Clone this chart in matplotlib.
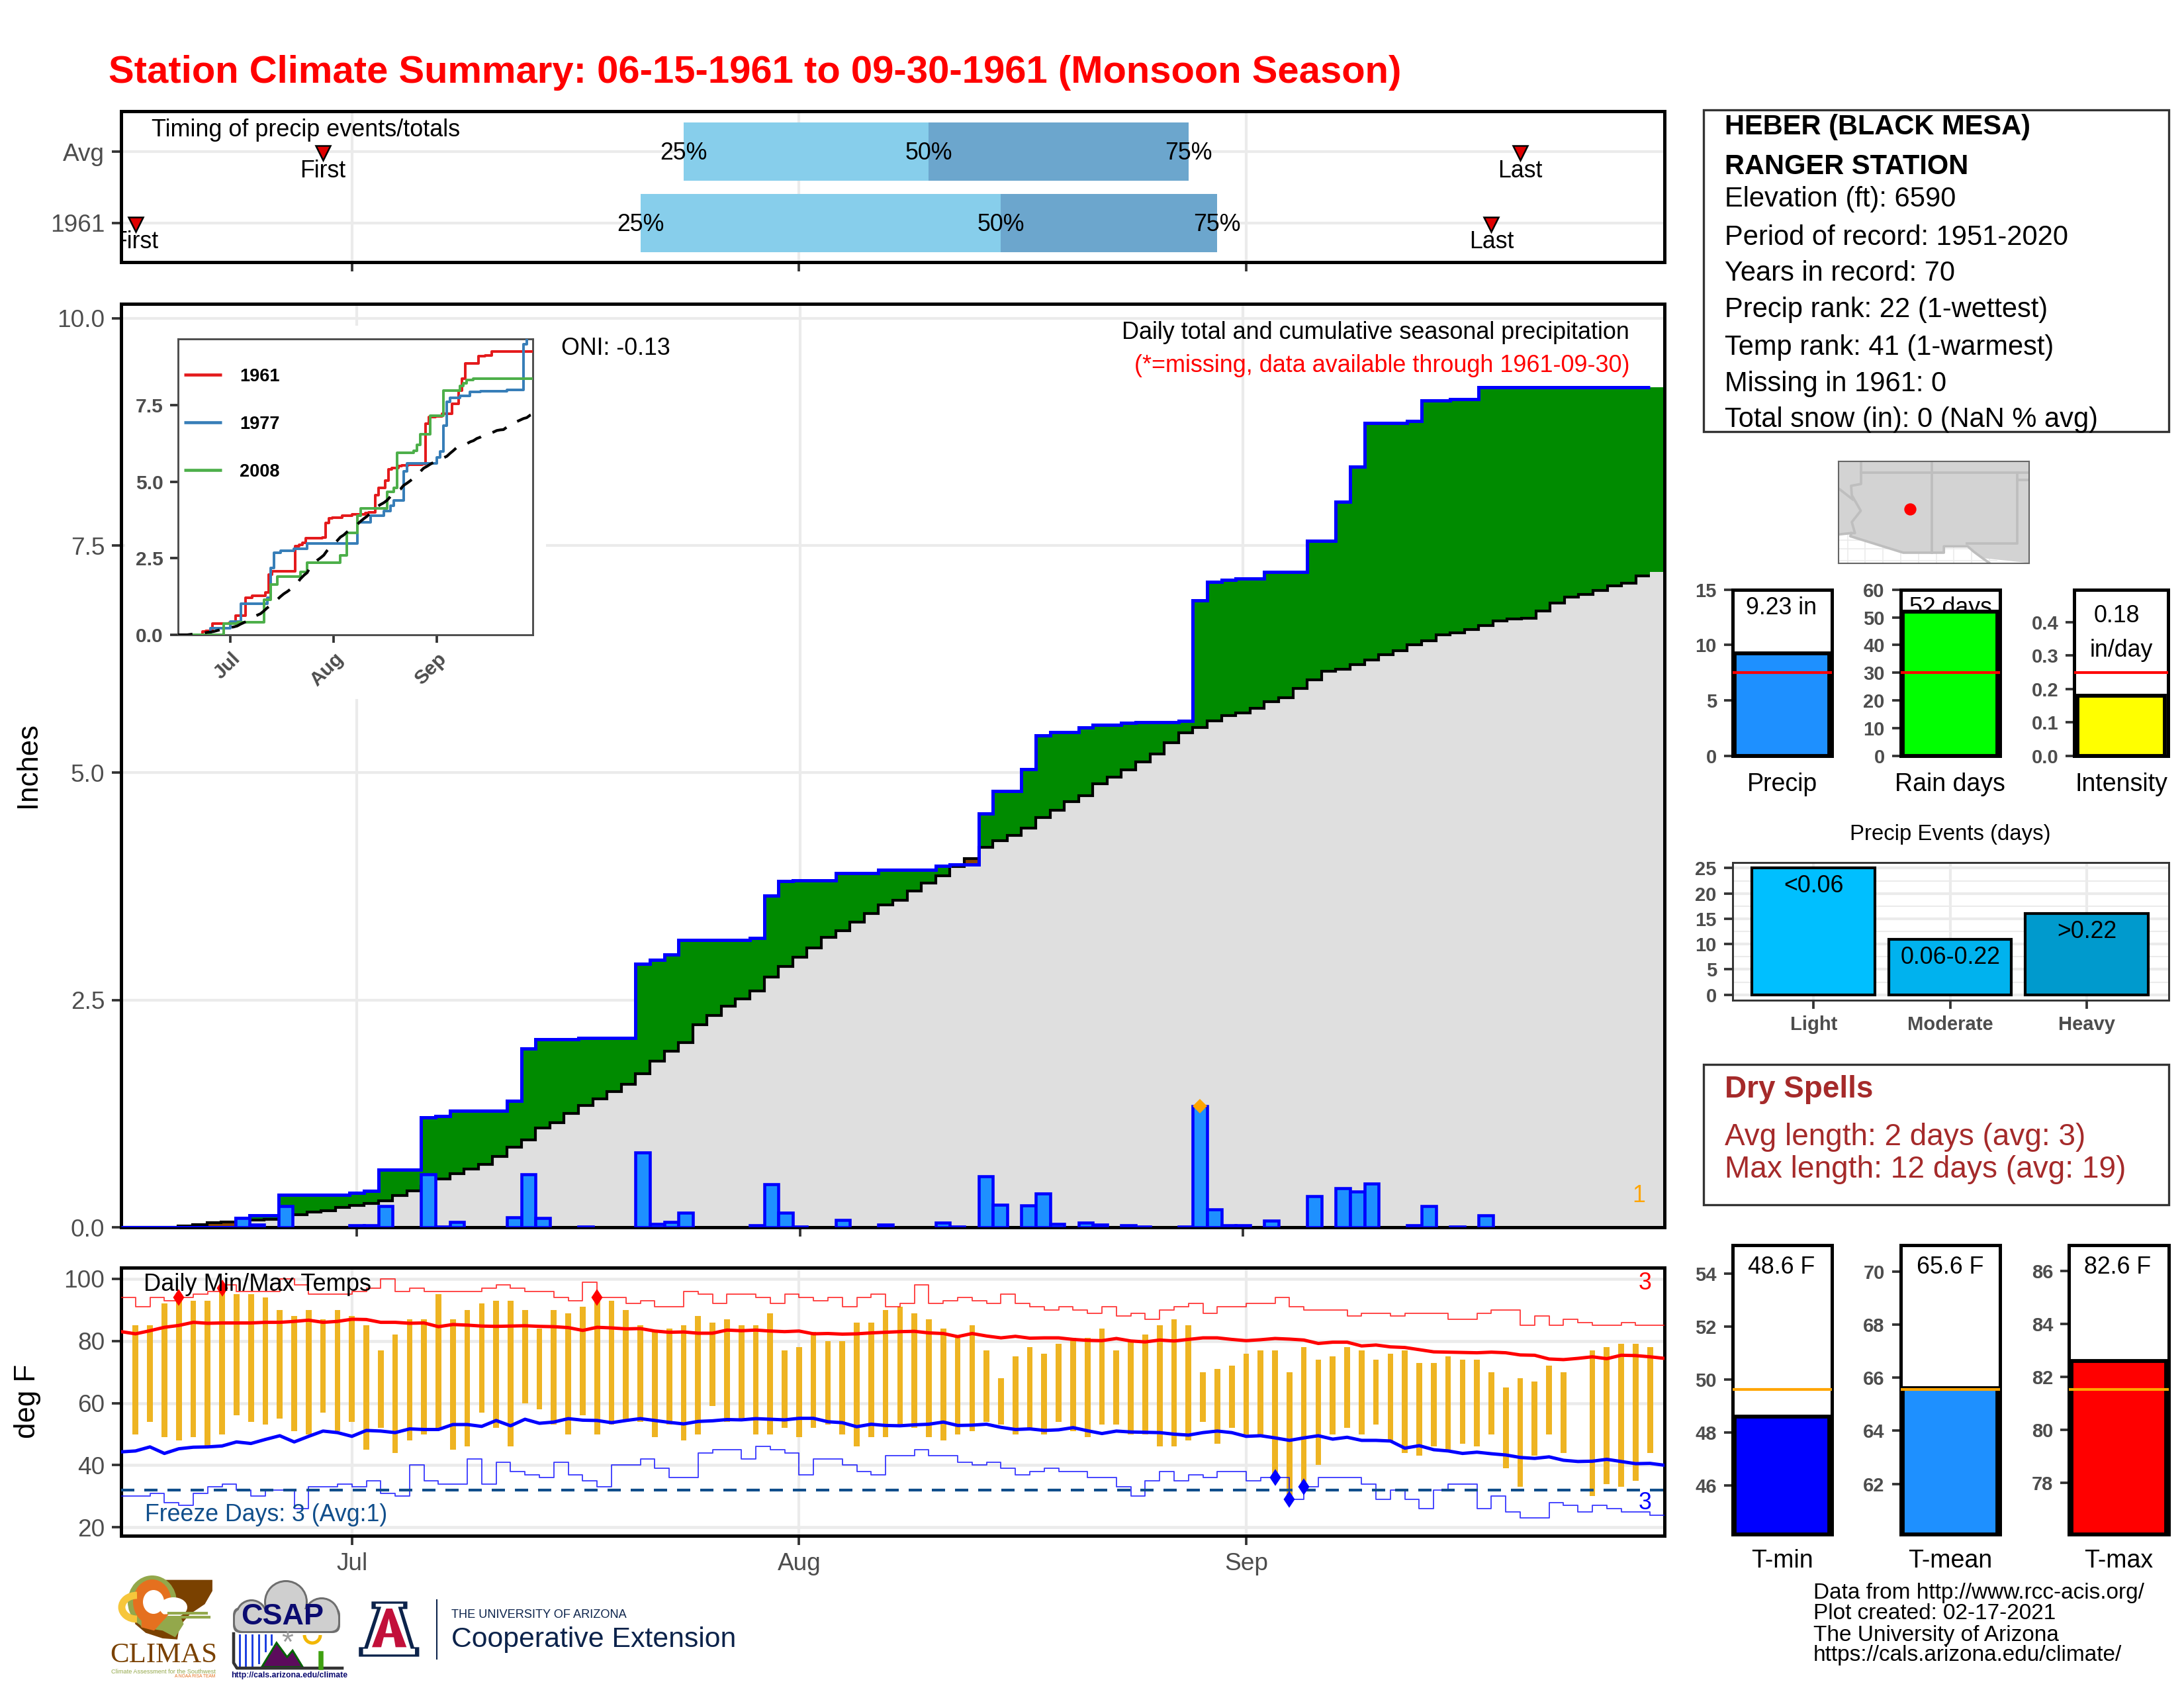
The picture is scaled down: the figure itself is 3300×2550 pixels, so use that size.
import numpy as np
import matplotlib
matplotlib.use("Agg")
import matplotlib.pyplot as plt
from matplotlib.patches import Rectangle, Polygon, Circle, Arc, Ellipse, FancyBboxPatch

plt.rcParams['font.family'] = ['Liberation Sans', 'DejaVu Sans']

# ---------- data ----------
month_ticks = [16, 47, 78]
month_labels = ['Jul', 'Aug', 'Sep']

timing_cats = ['1961', 'Avg']
timing_q25 = [36, 39]
timing_q50 = [61, 56]
timing_q75 = [76, 74]
timing_first = [1, 14]
timing_last = [95, 97]

# daily precipitation by day index (0 = Jun 15)
precip_days = [8, 9, 11, 16, 17, 18, 21, 22, 23, 27, 28, 29, 32, 36, 37, 38, 39, 44, 45, 46, 47, 50, 53,
               57, 58, 60, 61, 63, 64, 65, 67, 68, 70, 71, 74, 75, 76, 77, 78, 80, 83, 85, 86, 87, 90, 91, 93, 95]
precip_vals = [.10, .03, .23, .02, .02, .23, .58, .01, .06, .11, .58, .10, .01, .82, .04, .06, .16, .02, .47, .16, .01, .08, .03,
               .05, .01, .56, .25, .24, .37, .04, .05, .03, .02, .01, .01, 1.33, .20, .02, .02, .07, .34, .43, .39, .48, .02, .23, .01, .13]

avg_cum = [0, 0, 0, 0, .015, .03, .05, .055, .06, .08, .09, .11, .14, .17, .18, .22, .24, .26, .29, .35, .40, .45, .53, .59,
           .64, .69, .78, .88, .96, 1.09, 1.15, 1.25, 1.34, 1.41, 1.49, 1.57, 1.69, 1.83, 1.94, 2.03, 2.23, 2.33, 2.43, 2.51,
           2.60, 2.75, 2.87, 2.97, 3.07, 3.19, 3.26, 3.36, 3.45, 3.55, 3.60, 3.70, 3.79, 3.87, 3.97, 4.06, 4.18, 4.25, 4.31,
           4.39, 4.51, 4.59, 4.68, 4.75, 4.88, 4.95, 5.03, 5.12, 5.21, 5.33, 5.44, 5.50, 5.57, 5.63, 5.66, 5.71, 5.78, 5.83,
           5.93, 6.02, 6.12, 6.14, 6.19, 6.24, 6.30, 6.34, 6.41, 6.45, 6.52, 6.54, 6.58, 6.62, 6.67, 6.69, 6.70, 6.78, 6.87,
           6.93, 6.96, 7.01, 7.06, 7.09, 7.17, 7.21]

temp_high = [np.nan, 85, 85, 92, 94, 93, 93, 97, 95, 95, 94, 90, 88, 90, 87, 90, 88, 85, 77, 82, 87, 87, 95, 87, 90, 92, 93, 93, 90, 84,
             90, 89, 91, 94, 93, 90, 85, 83, 84, 85, 88, 86, 87, 85, 85, 89, 77, 78, 83, 80, 80, 86, 86, 90,
             91, 89, 87, 84, 81, 85, 77, 68, 75, 78, 76, 79, 81, 81, 84, 77, 80, 82, 85, 87, 85, 70, 71, 72, 76, 77,
             77, 70, 78, 74, 75, 78, 77, 74, 76, 77, 73, 73, 75, 74, 74, 70, 65, 68, 67, 72, 70, np.nan, 77, 78, 79, 79, 78, np.nan]
temp_low = [np.nan, 50, 54, 49, 48, 49, 46, 50, 56, 54, 53, 55, 51, 50, 57, 51, 54, 45, 52, 44, 48, 50, 52, 45, 46, 57, 52, 46, 60, 58,
            53, 50, 56, 50, 53, 54, 54, 49, 53, 48, 50, 59, 54, 55, 50, 50, 52, 49, 52, 53, 50, 46, 49, 49,
            53, 52, 49, 48, 50, 51, 54, 53, 50, 52, 50, 54, 51, 49, 53, 53, 50, 50, 46, 46, 48, 54, 47, 52, 50, 50,
            36, 29, 33, 40, 50, 52, 50, 53, 48, 44, 43, 46, 45, 47, 46, 50, 39, 33, 43, 50, 44, np.nan, 30, 34, 33, 35, 44, np.nan]
avg_high = [83, 82.3, 83.3, 84.4, 85, 86, 85.7, 85.8, 85.8, 85.8, 86, 86, 86.3, 86.7, 86, 86.3, 87, 86.9, 86, 86, 85.7, 85.8, 84.6,
            85.3, 85.1, 84.8, 84.7, 84.8, 84.9, 84.7, 84.6, 84.3, 83.4, 84.4, 84.2, 83.9, 84, 83.2, 82.8, 82.9, 82.5, 82.5, 83.5,
            83.3, 83.5, 83.2, 83, 83.2, 82.3, 82.4, 82.2, 82.3, 82.6, 82.8, 83, 83.1, 82.6, 82.4, 81.4, 82.4, 81.6, 81, 81.5, 80.9,
            81, 81, 80.5, 80.2, 80.1, 80.8, 80, 79.7, 80.3, 80, 80.5, 81, 81, 80.5, 80.1, 80.4, 80.8, 80.6, 80.3, 79.2, 79.6, 79.6,
            78.4, 78.7, 78.1, 77.9, 77.2, 76.5, 76.4, 76.3, 76.2, 76.4, 76.2, 75.5, 75.4, 74.2, 74, 74.4, 74.9, 74.3, 75.4, 75.3, 74.9, 74.4]
avg_low = [44.3, 44.6, 45.9, 43.8, 45.3, 45.8, 45.9, 46.2, 47.5, 47, 48.3, 49.5, 47.5, 49.3, 51, 50.5, 49.3, 51.2, 51, 50.5, 51.7, 51.5,
           51.5, 53.1, 53.1, 52.5, 54.4, 52.7, 54.8, 53.5, 53.9, 55, 54.5, 54.4, 53.7, 54.4, 55, 54.4, 53.8, 53.3, 54.1, 54.3, 54.7,
           54.6, 55, 54.8, 54.6, 55.1, 55.1, 54, 53.7, 52.4, 53.2, 52.8, 52.7, 53, 53.2, 53.9, 52.8, 52.9, 53.2, 52.2, 51.5, 51.7,
           51.2, 51.4, 52.1, 51.1, 50.2, 51, 50.7, 50.6, 50.5, 50, 49.7, 50.5, 51, 50.5, 49.3, 49.5, 48.8, 48, 48.8, 49.5, 48.4, 49,
           48, 48, 47.8, 45.5, 46.3, 45, 44.6, 43.8, 44.2, 43.7, 43.3, 42.5, 42.2, 42.7, 41.6, 41.2, 41.3, 41.9, 41.2, 40.5, 40.6, 40]
record_high = [94, 91, 94, 93, 94, 95, 96, 98, 96, 96, 96, 100, 98, 95, 95, 95, 96, 97, 100, 96, 97, 96, 96, 96, 96, 97, 98, 97, 96, 96,
               94, 93, 99, 94, 94, 92, 93, 91, 91, 96, 95, 92, 95, 95, 94, 92, 95, 94, 93, 94, 91, 94, 95, 91,
               92, 98, 92, 93, 94, 93, 92, 95, 92, 91, 90, 91, 90, 89, 91, 88, 89, 87, 90, 91, 92, 89, 91, 91, 92, 92,
               94, 91, 90, 90, 90, 88, 89, 89, 88, 89, 89, 89, 87, 87, 89, 90, 90, 85, 88, 85, 87, 86, 85, 85, 86, 85, 85, 85]
record_low = [30, 30, 31, 28, 27, 31, 33, 34, 32, 30, 32, 32, 26, 33, 33, 34, 33, 35, 31, 30, 40, 35, 34, 34, 42, 34, 41, 38, 37, 36,
              41, 37, 35, 33, 40, 40, 42, 39, 36, 36, 44, 45, 45, 42, 46, 45, 44, 37, 42, 42, 40, 38, 37, 43,
              43, 45, 43, 43, 41, 40, 41, 39, 37, 38, 39, 38, 38, 36, 36, 33, 30, 35, 38, 35, 37, 36, 38, 38, 35, 36,
              36, 29, 33, 36, 36, 36, 34, 29, 32, 29, 26, 32, 34, 34, 26, 30, 25, 23, 23, 28, 27, 25, 27, 26, 25, 25, 24, 24]
hot_days = [4, 7, 33]
hot_vals = [94, 97, 94]
cold_days = [80, 81, 82]
cold_vals = [36, 29, 33]
freeze_level = 32

# comparison years: (first day of step, cumulative inches)
y1977_days = [0, 10, 16, 19, 27, 28, 29, 31, 35, 39, 54, 58, 62, 64, 65, 68, 69, 78, 79, 80, 81, 82, 85, 88, 91, 99, 104, 105]
y1977_vals = [0, .22, .44, 1.02, 1.2, 2.19, 2.69, 2.75, 2.81, 2.99, 3.68, 3.88, 4.05, 4.21, 4.38, 5.33, 5.6, 5.79, 5.99, 6.82, 7.6, 7.73, 7.81, 7.93, 7.96, 7.99, 9.48, 9.8]
y2008_days = [0, 14, 18, 26, 28, 30, 37, 39, 49, 51, 54, 55, 63, 65, 66, 71, 72, 73, 76, 80, 85, 86, 87, 89]
y2008_vals = [0, .36, .41, 1.14, 1.65, 1.90, 2.05, 2.36, 2.6, 3.32, 3.9, 4.13, 4.67, 4.79, 5.95, 6.0, 6.21, 6.55, 7.15, 7.98, 8.12, 8.22, 8.33, 8.36]

precip_total, precip_avg = 9.23, 7.5
rain_days, rain_avg = 52, 30
intensity, intensity_avg = 0.18, 0.25
event_cats = ['Light', 'Moderate', 'Heavy']
event_vals = [25, 11, 16]
event_tags = ['<0.06', '0.06-0.22', '>0.22']
tmin, tmin_avg = 48.6, 49.63
tmean, tmean_avg = 65.6, 65.56
tmax, tmax_avg = 82.6, 81.53

station_lines = ['Elevation (ft): 6590', 'Period of record: 1951-2020', 'Years in record: 70',
                 'Precip rank: 22 (1-wettest)', 'Temp rank: 41 (1-warmest)', 'Missing in 1961: 0',
                 'Total snow (in): 0 (NaN % avg)']
station_lon, station_lat = -110.6, 34.4

# map outlines (lon, lat)
mex_lon = [-115.66, -114.72, -114.81, -111.07, -108.21, -108.21, -106.53, -106.1, -105.5, -105.0, -115.66]
mex_lat = [32.62, 32.72, 32.5, 31.33, 31.33, 31.78, 31.78, 31.4, 30.95, 30.6, 30.6]
river_lon = [-114.05, -114.05, -114.75, -114.7, -114.07, -114.7, -114.48, -114.72]
river_lat = [37.8, 36.2, 36.07, 35.4, 34.3, 33.5, 32.72, 32.72]
canv_lon = [-115.66, -114.63]
canv_lat = [35.9, 35.1]

# ---------- helpers ----------
W, H = 3300, 2550
BG, GRID = 'white', '#EBEBEB'
TICK, LAB = '#333333', '#4D4D4D'
fig = plt.figure(figsize=(11, 8.5), dpi=300, facecolor=BG)


def mk(L, T, R, B, **kw):
    return fig.add_axes([L / W, 1 - B / H, (R - L) / W, (B - T) / H], **kw)


px = fig.add_axes([0, 0, 1, 1], zorder=20)
px.set_xlim(0, W)
px.set_ylim(H, 0)
px.axis('off')
px.patch.set_alpha(0)
px.set_autoscale_on(False)


def T(x, y, s, size=8.6, color='black', ha='left', va='center', **kw):
    if 'rotation' not in kw:
        y = y + 6
    return px.text(x, y, s, fontsize=size, color=color, ha=ha, va=va, **kw)


def Z(points):
    """logo outline points given in a 1.568 x 3 enlarged logo strip"""
    return [(150 + x / 1.568, 2360 + y / 3) for x, y in points]


def frame(ax, lw=1.2, col='black'):
    for s in ax.spines.values():
        s.set_linewidth(lw)
        s.set_color(col)


def ticks(ax, size=8.9, bold=False, length=3.4):
    ax.tick_params(axis='both', length=length, width=0.9, color=TICK, labelcolor=LAB, labelsize=size, pad=2.5)
    if bold:
        for l in ax.get_xticklabels() + ax.get_yticklabels():
            l.set_fontweight('bold')


idx = np.arange(108)
edges = np.arange(-0.5, 108)
xe = np.repeat(edges, 2)[1:-1]
daily = np.zeros(108)
daily[precip_days] = precip_vals
cum = np.cumsum(daily)
avg = np.array(avg_cum)
cum2, avg2 = np.repeat(cum, 2), np.repeat(avg, 2)

# ---------- title ----------
T(164, 104, 'Station Climate Summary: 06-15-1961 to 09-30-1961 (Monsoon Season)', size=13.93, color='red', fontweight='bold')

# ---------- timing panel ----------
a = mk(183, 168, 2515, 396)
a.set_xlim(0, 107)
a.set_ylim(-0.549, 1.569)
a.set_xticks(month_ticks)
a.set_xticklabels([])
a.set_yticks([0, 1])
a.set_yticklabels(timing_cats)
a.grid(True, color=GRID, lw=1.0)
a.set_axisbelow(True)
a.barh([0, 1], np.array(timing_q50) - np.array(timing_q25), left=timing_q25, height=0.82, color='#87CEEB', zorder=2)
a.barh([0, 1], np.array(timing_q75) - np.array(timing_q50), left=timing_q50, height=0.82, color='#6CA6CD', zorder=2)
for i in range(2):
    for q, lab in zip((timing_q25, timing_q50, timing_q75), ('25%', '50%', '75%')):
        a.text(q[i], i - 0.02, lab, fontsize=8.6, ha='center', va='center', zorder=4)
    a.plot([timing_first[i], timing_last[i]], [i - 0.02, i - 0.02], ls='none', marker='v', ms=5.2, mfc='#E00000', mec='black', mew=0.6, zorder=4)
    a.text(timing_first[i], i - 0.27, 'First', fontsize=8.6, ha='center', va='center', zorder=4, clip_on=True)
    a.text(timing_last[i], i - 0.27, 'Last', fontsize=8.6, ha='center', va='center', zorder=4, clip_on=True)
frame(a)
ticks(a)
T(229, 190, 'Timing of precip events/totals', size=8.65)

# ---------- main panel ----------
m = mk(183, 459, 2515, 1854)
m.set_xlim(-0.5, 107.5)
m.set_ylim(0, 10.16)
m.set_xticks(month_ticks)
m.set_xticklabels([])
m.set_yticks([0, 2.5, 5, 7.5, 10])
m.set_yticklabels(['0.0', '2.5', '5.0', '7.5', '10.0'])
m.grid(True, color=GRID, lw=1.0)
m.set_axisbelow(True)
m.add_patch(Rectangle((189, 492), 636, 564, transform=px.transData, fc='white', ec='none', zorder=1))
m.fill_between(xe, 0, avg2, color='#DFDFDF', lw=0, zorder=1.5)
m.fill_between(xe, avg2, cum2, where=cum2 >= avg2, color='#008B00', lw=0, zorder=1.6)
m.fill_between(xe, cum2, avg2, where=cum2 < avg2, color='#8B4500', lw=0, zorder=1.6)
m.stairs(avg[:107], edges[:108], baseline=None, color='black', lw=1.0, zorder=3)
m.stairs(cum[:107], edges[:108], baseline=None, color='#0000FF', lw=1.2, zorder=3.2)
m.bar(precip_days, precip_vals, width=1.0, fc='#1E90FF', ec='#0000FF', lw=1.1, zorder=4)
m.plot([precip_days[int(np.argmax(precip_vals))]], [max(precip_vals)], ls='none', marker='D', ms=2.8, color='orange', zorder=5)
frame(m)
ticks(m)
T(848, 520, 'ONI: -0.13')
T(2462, 496, 'Daily total and cumulative seasonal precipitation', size=8.65, ha='right')
T(2462, 546, '(*=missing, data available through 1961-09-30)', size=8.65, color='red', ha='right')
T(2476, 1800, '1', color='orange', ha='center')
T(42, 1155, 'Inches', size=10.5, rotation=90, ha='center')

# ---------- inset ----------
n = mk(269, 512, 805, 959)
n.set_xlim(0.2, 106.8)
n.set_ylim(0, 9.66)
n.set_xticks(month_ticks)
n.set_xticklabels(month_labels, rotation=45, ha='right', rotation_mode='anchor')
n.set_yticks([0, 2.5, 5, 7.5])
n.set_yticklabels(['0.0', '2.5', '5.0', '7.5'])
n.plot(idx, cum, drawstyle='steps-mid', color='#E41A1C', lw=0.95, zorder=3)
n.plot(y1977_days + [107], y1977_vals + [y1977_vals[-1]], drawstyle='steps-post', color='#377EB8', lw=0.95, zorder=4)
n.plot(y2008_days + [107], y2008_vals + [y2008_vals[-1]], drawstyle='steps-post', color='#4DAF4A', lw=0.95, zorder=5)
n.plot(idx, avg, color='black', lw=1.0, ls=(0, (5.5, 4.5)), zorder=6)
frame(n, 0.7, '#4D4D4D')
ticks(n, size=7.2, bold=True, length=2.8)
for y, lab, col in zip((566, 638, 710), ('1961', '1977', '2008'), ('#E41A1C', '#377EB8', '#4DAF4A')):
    px.plot([278, 335], [y, y], color=col, lw=1.1, solid_capstyle='butt')
    T(362, y - 3, lab, size=6.5, fontweight='bold')

# ---------- temperature panel ----------
t = mk(183, 1915, 2515, 2320)
t.set_xlim(0, 107)
t.set_ylim(17.3, 103.6)
t.set_xticks(month_ticks)
t.set_xticklabels(month_labels)
t.set_yticks([20, 40, 60, 80, 100])
t.grid(True, color=GRID, lw=1.0)
t.yaxis.grid(True, lw=1.1)
t.set_axisbelow(True)
hi, lo = np.array(temp_high), np.array(temp_low)
t.bar(idx, hi - lo, bottom=lo, width=0.4, color='#EEB422', zorder=2)
t.plot(idx, record_high, drawstyle='steps-post', color='#FF0000', lw=0.45, alpha=0.75, zorder=3)
t.plot(idx, record_low, drawstyle='steps-post', color='#0000FF', lw=0.45, alpha=0.75, zorder=3)
t.plot(idx, avg_high, color='#FF0000', lw=1.2, zorder=4)
t.plot(idx, avg_low, color='#0000FF', lw=1.2, zorder=4)
t.axhline(freeze_level, color='#104E8B', lw=1.0, ls=(0, (4.8, 3.6)), zorder=4)
t.plot(hot_days, hot_vals, ls='none', marker='d', ms=3.2, color='#FF0000', zorder=5)
t.plot(cold_days, cold_vals, ls='none', marker='d', ms=3.2, color='#0000FF', zorder=5)
frame(t)
ticks(t)
T(217, 1935, 'Daily Min/Max Temps', size=8.7)
T(2486, 1933, '3', color='red', ha='center')
T(2486, 2265, '3', color='#0000FF', ha='center')
T(219, 2282, 'Freeze Days: 3 (Avg:1)', color='#104E8B')
T(42, 2117, 'deg F', size=10.5, rotation=90, ha='center')

# ---------- station box ----------
px.add_patch(Rectangle((2574, 166), 703, 486, fc='none', ec='#333333', lw=0.8))
T(2606, 186, 'HEBER (BLACK MESA)', size=10, fontweight='bold')
T(2606, 246, 'RANGER STATION', size=10, fontweight='bold')
for y, s in zip((295, 353, 407, 462, 519, 574, 628), station_lines):
    T(2606, y, s, size=10)

# ---------- map ----------
mp = mk(2777.5, 697, 3066, 850.5)
mp.set_xlim(-115.66, -102.2)
mp.set_ylim(30.6, 37.8)
mp.set_xticks([])
mp.set_yticks([])
mp.add_patch(Polygon(np.c_[mex_lon, mex_lat], closed=True, fc='white', ec='none', zorder=1.1))
for v in np.arange(-115, -104, 1.25):
    mp.plot([v, v], [30.6, 32.6], color=GRID, lw=0.4, zorder=1.2)
for v in (30.75, 31.6, 32.2):
    mp.plot([-115.66, -104.5], [v, v], color=GRID, lw=0.4, zorder=1.2)
mp.add_patch(Polygon(np.c_[mex_lon[:-2] + [-102.2, -102.2, -115.66], mex_lat[:-2] + [30.6, 37.8, 37.8]], closed=True, fc='#D3D3D3', ec='none', zorder=1.3))
line = dict(color='#BEBEBE', lw=0.9, zorder=2)
mp.plot(mex_lon[:-1], mex_lat[:-1], **line)
mp.plot(river_lon, river_lat, **line)
mp.plot(canv_lon, canv_lat, **line)
mp.plot([-114.05, -102.2], [37, 37], **line)
mp.plot([-109.05, -109.05], [37.8, 31.33], **line)
mp.plot([-103.04, -103.04, -106.6], [37, 32, 32], **line)
mp.plot([-103.04, -102.2], [36.5, 36.5], **line)
mp.plot([station_lon], [station_lat], ls='none', marker='o', ms=3.4, color='red', zorder=3)
frame(mp, 0.5, '#666666')


# ---------- small bar panels ----------
def barpanel(L, R, top, bottom, val, ref, col, refcol, yl, yt, ytl, xlab, labpx, texts, width=0.95):
    b = mk(L, top, R, bottom)
    b.set_xlim(-0.5, 0.5)
    b.set_ylim(*yl)
    b.set_xticks([])
    b.set_yticks(yt)
    b.set_yticklabels(ytl)
    for (x, y, s) in texts:
        b.text(x, y, s, transform=px.transData, fontsize=8.6, ha='center', va='center', zorder=1)
    b.bar([0], [val - yl[0]], bottom=yl[0], width=width, fc=col, ec='black', lw=1.4, zorder=2)
    b.axhline(ref, color=refcol, lw=1.0, zorder=3)
    frame(b)
    ticks(b, size=7, bold=True, length=3.2)
    T((L + R) / 2, labpx, xlab, size=9, ha='center')
    return b


barpanel(2617.6, 2768, 890.7, 1142, precip_total, precip_avg, '#1E90FF', 'red', (0, 15), [0, 5, 10, 15], ['0', '5', '10', '15'],
         'Precip', 1179, [(2692, 919, '9.23 in')])
barpanel(2871.5, 3022, 890.7, 1142, rain_days, rain_avg, '#00FF00', 'red', (0, 60), [0, 10, 20, 30, 40, 50, 60], ['0', '10', '20', '30', '40', '50', '60'],
         'Rain days', 1179, [(2947, 919, '52 days')])
barpanel(3134, 3276, 890.7, 1142, intensity, intensity_avg, '#FFFF00', 'red', (0, 0.497), [0, .1, .2, .3, .4], ['0.0', '0.1', '0.2', '0.3', '0.4'],
         'Intensity', 1179, [(3198, 930, '0.18'), (3205, 982, 'in/day')], width=0.93)

b = mk(2617.6, 1303, 3276.8, 1510.7)
b.set_xlim(-0.594, 2.6)
b.set_ylim(-1.05, 26.1)
b.set_xticks([0, 1, 2])
b.set_xticklabels(event_cats)
b.set_yticks([0, 5, 10, 15, 20, 25])
b.set_yticks([2.5, 7.5, 12.5, 17.5, 22.5], minor=True)
b.grid(True, color=GRID, lw=1.0)
b.yaxis.grid(True, which='minor', color=GRID, lw=0.5)
b.set_axisbelow(True)
b.bar([0, 1, 2], event_vals, width=0.9, color=['#00BFFF', '#00B2EE', '#009ACD'], ec='black', lw=1.0, zorder=2)
for x, v, s in zip([0, 1, 2], event_vals, event_tags):
    b.text(x, v - 3.6, s, fontsize=8.6, ha='center', va='center', zorder=3)
frame(b, 0.7, '#333333')
ticks(b, size=7, bold=True, length=3.2)
b.tick_params(which='minor', length=0)
T(2946.7, 1255, 'Precip Events (days)', size=7.9, ha='center')

# ---------- dry spells ----------
px.add_patch(Rectangle((2574, 1608), 703, 212, fc='none', ec='#333333', lw=0.8))
T(2606, 1640, 'Dry Spells', size=11, color='#A52A2A', fontweight='bold')
T(2606, 1712, 'Avg length: 2 days (avg: 3)', size=11, color='#A52A2A')
T(2606, 1761, 'Max length: 12 days (avg: 19)', size=11.05, color='#A52A2A')

# ---------- temperature bars ----------
barpanel(2617.6, 2768, 1880.7, 2317.7, tmin, tmin_avg, '#0000FF', 'orange', (44.16, 55.08), [46, 48, 50, 52, 54], ['46', '48', '50', '52', '54'],
         'T-min', 2352, [(2692, 1915, '48.6 F')])
barpanel(2871.5, 3022, 1880.7, 2317.7, tmean, tmean_avg, '#1E90FF', 'orange', (60.1, 71.01), [62, 64, 66, 68, 70], ['62', '64', '66', '68', '70'],
         'T-mean', 2352, [(2947, 1915, '65.6 F')])
barpanel(3126, 3277, 1880.7, 2317.7, tmax, tmax_avg, '#FF0000', 'orange', (76.07, 86.98), [78, 80, 82, 84, 86], ['78', '80', '82', '84', '86'],
         'T-max', 2352, [(3200, 1915, '82.6 F')])
for y, s in zip((2401, 2432, 2464, 2495), ('Data from http://www.rcc-acis.org/', 'Plot created: 02-17-2021',
                                           'The University of Arizona', 'https://cals.arizona.edu/climate/')):
    T(2740, y, s, size=8)

# ---------- logos (drawn, originals are raster images) ----------
# CLIMAS
px.add_patch(Polygon(Z([(155, 80), (268, 80), (268, 130), (250, 190), (215, 235), (190, 290), (185, 350), (150, 345),
                        (110, 320), (85, 280), (80, 200), (100, 130)]), fc='#7A4100', ec='none'))
px.add_patch(Polygon(Z([(85, 235), (190, 235), (200, 280), (180, 340), (150, 310), (100, 295)]), fc='#93A84B', ec='none'))
px.add_patch(Ellipse((230, 2420), 74, 80, fc='#93A84B', ec='none'))
px.add_patch(Ellipse((230, 2420), 58, 68, fc='#E5701F', ec='none'))
px.add_patch(Ellipse((232, 2420), 32, 36, fc='white', ec='none'))
px.add_patch(Ellipse((262, 2428), 42, 30, fc='white', ec='none'))
px.add_patch(Arc((207, 2428), 46, 36, theta1=90, theta2=270, ec='#F6C63B', lw=2.6))
px.add_patch(Polygon(Z([(100, 240), (165, 235), (130, 310), (100, 295)]), fc='#E5701F', ec='none'))
px.plot([255, 312], [2437, 2437], color='#93A84B', lw=1.0)
px.plot([255, 316], [2443, 2443], color='#93A84B', lw=1.0)
T(247, 2495, 'CLIMAS', size=10.3, color='#7A4100', ha='center', family=['Liberation Serif'])
T(247, 2520, 'Climate Assessment for the Southwest', size=2.2, color='#93A84B', ha='center')
T(295, 2527, 'A NOAA RISA TEAM', size=1.6, color='#E5701F', ha='center')
# CSAP
for c, pad in (('#6E6E6E', 0), ('#CFCFCF', 3)):
    px.add_patch(FancyBboxPatch((352 + pad, 2428 + pad), 162 - 2 * pad, 39 - 2 * pad, boxstyle='round,pad=0,rounding_size=12', fc=c, ec='none'))
    px.add_patch(Circle((432, 2420), 33 - pad, fc=c, ec='none'))
    px.add_patch(Circle((380, 2440), 24 - pad, fc=c, ec='none'))
    px.add_patch(Circle((486, 2440), 27 - pad, fc=c, ec='none'))
T(427, 2436, 'CSAP', size=10.8, color='#0B0B70', ha='center', fontweight='bold')
for x, yb in zip((362, 371, 381, 391, 401, 410), (2517, 2517, 2517, 2512, 2494, 2484)):
    px.plot([x, x], [2470, yb], color='#1A3CE0', lw=0.7)
px.plot([353, 353, 358, 517], [2468, 2512, 2520, 2520], color='#333333', lw=1.1)
px.add_patch(Polygon(Z([(385, 475), (420, 365), (445, 430), (458, 400), (482, 475)]), fc='#5C0B5C', ec='#006400', lw=0.7))
T(434, 2478, '*', size=11, color='#9A9A9A', ha='center')
px.add_patch(Arc((472, 2470), 24, 24, theta1=0, theta2=180, ec='#F2B705', lw=1.2))
px.plot([485, 485], [2498, 2519], color='#3FA010', lw=1.8)
T(437, 2525, 'http://cals.arizona.edu/climate', size=2.95, color='#0B0B70', ha='center', fontweight='bold')
# University of Arizona
px.add_patch(Polygon(Z([(645, 178), (730, 178), (730, 212), (718, 212), (746, 385), (758, 385), (758, 428), (615, 428),
                        (615, 385), (628, 385), (658, 212), (645, 212)]), fc='#0C234B', ec='none'))
px.add_patch(Polygon(Z([(655, 188), (720, 188), (720, 202), (708, 202), (738, 392), (748, 392), (748, 418), (625, 418),
                        (625, 392), (636, 392), (668, 202), (655, 202)]), fc='white', ec='none'))
px.add_patch(Polygon(Z([(680, 210), (694, 210), (728, 385), (702, 385), (698, 340), (674, 340), (668, 385), (646, 385)]), fc='#C2103A', ec='none'))
px.add_patch(Polygon(Z([(686, 255), (694, 322), (678, 322)]), fc='white', ec='none'))
px.plot([660, 660], [2417, 2506], color='#0C234B', lw=0.5)
T(682, 2434, 'THE UNIVERSITY OF ARIZONA', size=4.35, color='#0C234B')
T(682, 2471, 'Cooperative Extension', size=10.25, color='#0C234B')

fig.savefig('out.png', dpi=300)
